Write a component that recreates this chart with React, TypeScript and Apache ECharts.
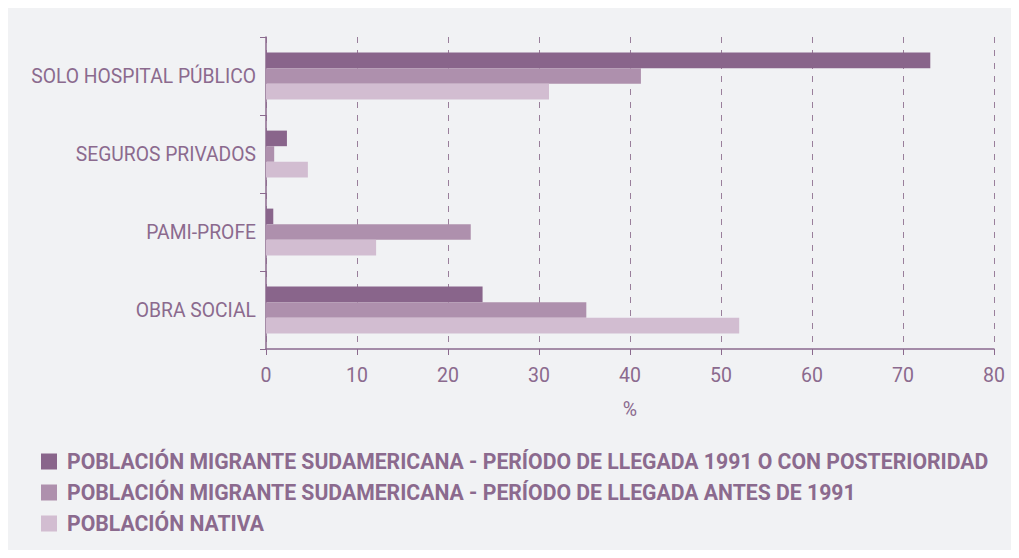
import React, { useEffect, useRef } from "react";
import * as echarts from "echarts";

const categories = ["SOLO HOSPITAL PÚBLICO", "SEGUROS PRIVADOS", "PAMI-PROFE", "OBRA SOCIAL"];
const seriesNames = [
  "POBLACIÓN MIGRANTE SUDAMERICANA - PERÍODO DE LLEGADA 1991 O CON POSTERIORIDAD",
  "POBLACIÓN MIGRANTE SUDAMERICANA - PERÍODO DE LLEGADA ANTES DE 1991",
  "POBLACIÓN NATIVA",
];
const recentMigrants = [73, 2.3, 0.8, 23.8];
const earlyMigrants = [41.2, 0.9, 22.5, 35.2];
const natives = [31.1, 4.6, 12.1, 52.0];
const xTicks = { min: 0, max: 80, interval: 10 };

const colors = ["#89658b", "#ae90ad", "#d2bdd1"];
const textColor = "#8b6a8e";
const axisColor = "#8b6a8e";

export default function App() {
  const ref = useRef<HTMLDivElement>(null);
  useEffect(() => {
    if (!ref.current) return;
    const chart = echarts.init(ref.current, null, { renderer: "svg" });
    const values = [recentMigrants, earlyMigrants, natives];
    chart.setOption({
      animation: false,
      backgroundColor: "#f1f2f4",
      textStyle: { fontFamily: "Roboto" },
      grid: { left: 258, right: 17, top: 29, bottom: 201, containLabel: false },
      legend: {
        orient: "vertical",
        left: 28,
        top: 438,
        itemWidth: 16,
        itemHeight: 16,
        itemGap: 10,
        icon: "rect",
        data: seriesNames,
        selectedMode: false,
        textStyle: {
          color: textColor,
          fontSize: 21.2,
          lineHeight: 16,
          fontWeight: "bold",
          fontFamily: "Roboto",
          padding: [0, 0, 0, 5],
        },
      },
      xAxis: {
        type: "value",
        min: xTicks.min,
        max: xTicks.max,
        interval: xTicks.interval,
        name: "%",
        nameLocation: "middle",
        nameGap: 50,
        nameTextStyle: { color: textColor, fontSize: 19.5 },
        axisLine: { show: true, lineStyle: { color: axisColor, width: 1.5 } },
        axisTick: { show: true, length: 6, lineStyle: { color: axisColor } },
        axisLabel: { color: textColor, fontSize: 19.5, margin: 16 },
        splitLine: { show: true, lineStyle: { color: "#9a7f9b", type: [6, 7], width: 1 } },
      },
      yAxis: {
        type: "category",
        inverse: true,
        data: categories,
        axisLine: { show: true, lineStyle: { color: axisColor, width: 1.5 } },
        axisTick: { show: true, length: 6, lineStyle: { color: axisColor } },
        axisLabel: { color: textColor, fontSize: 19.3, margin: 10 },
        splitLine: { show: false },
      },
      series: seriesNames.map((name, i) => ({
        name,
        type: "bar",
        data: values[i],
        barWidth: 15.6,
        barGap: "0%",
        itemStyle: { color: colors[i] },
      })),
    });
    return () => chart.dispose();
  }, []);
  return <div ref={ref} style={{ width: 1003, height: 542 }} />;
}
